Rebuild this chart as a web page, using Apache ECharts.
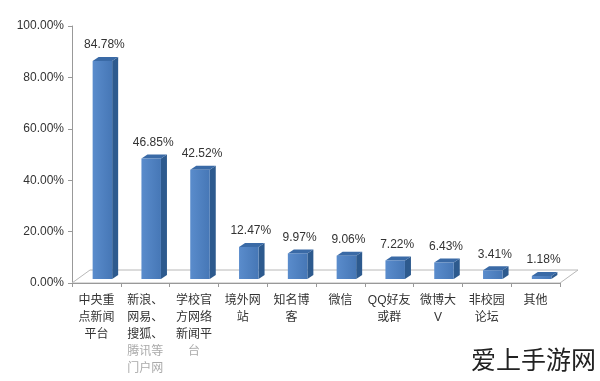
<!DOCTYPE html>
<html><head><meta charset="utf-8">
<script src="https://cdn.jsdelivr.net/npm/echarts@6/dist/echarts.min.js"></script>
<style>html,body{margin:0;padding:0;background:#fff}#c{width:600px;height:381px}</style>
</head><body><div id="c"></div>
<script>
var categories = ['中央重\n点新闻\n平台', '新浪、\n网易、\n搜狐、\n{l|腾讯等}\n{l|门户网}', '学校官\n方网络\n新闻平\n{l|台}', '境外网\n站', '知名博\n客', '微信', 'QQ好友\n或群', '微博大\nV', '非校园\n论坛', '其他'];
var values = [84.78, 46.85, 42.52, 12.47, 9.97, 9.06, 7.22, 6.43, 3.41, 1.18];
var yTicks = [0, 20, 40, 60, 80, 100];

var chart = echarts.init(document.getElementById('c'), null, {renderer: 'canvas'});
var FONT = '"Liberation Sans","Noto Sans CJK SC",sans-serif';

function barItem(params, api) {
  var idx = api.value(0), val = api.value(1);
  var base = api.coord([idx, 0]);
  var top = api.coord([idx, val]);
  var band = api.size([1, 0])[0];
  var w = band * 0.4;
  var ox = 6, oy = -4; // shift into floor depth
  var dx = 6, dy = -4; // bar depth
  var x0 = base[0] - w / 2 + ox, x1 = x0 + w;
  var yb = base[1] + oy, yt = top[1] + oy;
  return {
    type: 'group',
    children: [
      {type: 'polygon', shape: {points: [[x1, yb], [x1 + dx, yb + dy], [x1 + dx, yt + dy], [x1, yt]]},
       style: {fill: '#2d5a8e'}},
      {type: 'polygon', shape: {points: [[x0, yt], [x1, yt], [x1 + dx, yt + dy], [x0 + dx, yt + dy]]},
       style: {fill: '#3a6aa6'}},
      {type: 'rect', shape: {x: x0, y: yt, width: w, height: yb - yt},
       style: {fill: new echarts.graphic.LinearGradient(0, 0, 1, 0, [{offset: 0, color: '#5a8ccc'}, {offset: 1, color: '#4677b6'}])}},
      {type: 'text', x: x0 + w / 2 + 2, y: yt + dy - 6,
       style: {text: val.toFixed(2) + '%', fill: '#333', font: '12px ' + FONT, align: 'center', verticalAlign: 'bottom'}}
    ]
  };
}

function floorItem(params, api) {
  var a = api.coord([0, 0]);
  var b = api.coord([categories.length - 1, 0]);
  var band = api.size([1, 0])[0];
  var xl = a[0] - band / 2, xr = b[0] + band / 2, y = a[1];
  var fx = 18, fy = -13;
  return {
    type: 'group',
    children: [
      {type: 'polygon', shape: {points: [[xl, y], [xr, y], [xr + fx, y + fy], [xl + fx, y + fy]]},
       style: {fill: '#fff', stroke: '#b8b8b8', lineWidth: 1}}
    ]
  };
}

var option = {
  animation: false,
  grid: {left: 72, right: 40, top: 26, bottom: 98},
  xAxis: {
    type: 'category',
    data: categories,
    axisLine: {show: true, lineStyle: {color: '#999'}},
    axisTick: {show: true, length: 4, lineStyle: {color: '#999'}},
    axisLabel: {interval: 0, color: '#333', fontSize: 12, fontFamily: FONT, lineHeight: 17, margin: 9,
      rich: {l: {color: '#aaa', fontSize: 12, lineHeight: 17, fontFamily: FONT}}},
    z: 10
  },
  yAxis: {
    type: 'value', min: 0, max: 100, interval: 20,
    axisLine: {show: true, lineStyle: {color: '#999'}},
    axisTick: {show: true, length: 4, lineStyle: {color: '#999'}},
    splitLine: {show: false},
    axisLabel: {color: '#333', fontSize: 12, fontFamily: FONT, margin: 8,
      formatter: function (v) { return v.toFixed(2) + '%'; }}
  },
  series: [
    {type: 'custom', renderItem: floorItem, data: [[0, 0]], z: 1, silent: true},
    {type: 'custom', renderItem: barItem, data: values.map(function (v, i) { return [i, v]; }), z: 2}
  ],
  graphic: [
    {type: 'text', right: 4, top: 347,
     style: {text: '爱上手游网', fill: '#222', font: '25px "Noto Sans CJK SC",sans-serif'}}
  ]
};
chart.setOption(option);
</script></body></html>
